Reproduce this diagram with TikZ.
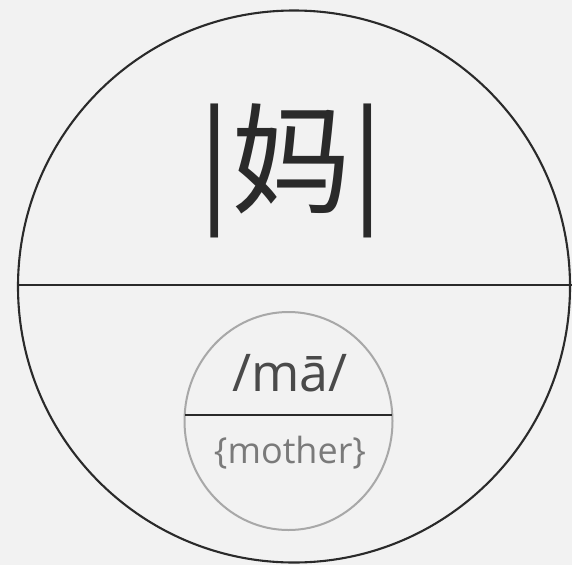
\documentclass[tikz,border=0pt]{standalone}
\usepackage{fontspec}
\setmainfont{Open Sans}
\newfontfamily\cjk{Noto Sans CJK SC}
\usetikzlibrary{shapes.geometric}
\definecolor{bg}{HTML}{F2F2F2}
\definecolor{ink}{HTML}{2A2A2A}
\definecolor{soft}{HTML}{A8A8A8}
\definecolor{grey}{HTML}{7A7A7A}
\tikzset{
  bigring/.style={circle, draw=ink, line width=2.1pt, minimum size=552pt, inner sep=0pt},
  smallring/.style={ellipse, draw=soft, line width=2pt, minimum width=208pt, minimum height=218pt, inner sep=0pt},
  divider/.style={draw=ink, line width=2.6pt},
  hanzi/.style={text=ink, font=\cjk\fontsize{120}{120}\selectfont, inner sep=0pt},
  pinyin/.style={text=ink!85, font=\fontsize{52}{52}\selectfont, inner sep=0pt, anchor=base},
  gloss/.style={text=grey, font=\fontsize{36}{36}\selectfont, inner sep=0pt, anchor=base}
}
\begin{document}
\begin{tikzpicture}[x=1pt,y=-1pt]
\fill[bg] (0,0) rectangle (572,565);
\useasboundingbox (0,0) rectangle (572,565);
\node[bigring] (big) at (294,286.5) {};
\coordinate (bigright) at (572,285);
\coordinate (bigleft) at (18,285);
\draw[divider] (bigleft) -- (bigright);
\node[smallring] (small) at (288.5,421) {};
\coordinate (sl) at (185,415);
\coordinate (sr) at (392,415);
\draw[divider] (sl) -- (sr);
\node[hanzi] (char) at (291,171) {|妈|};
\node[pinyin] (py) at (290,391) {/mā/};
\node[gloss] (gl) at (290,463) {\{mother\}};
\end{tikzpicture}
\end{document}
